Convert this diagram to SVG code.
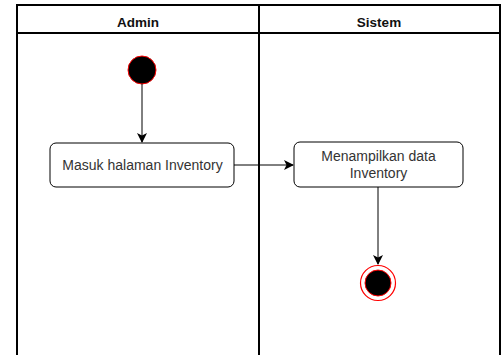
<svg xmlns="http://www.w3.org/2000/svg" width="503" height="355" viewBox="0 0 503 355">
<defs>
<marker id="arr" viewBox="0 0 10 10" refX="9" refY="5" markerWidth="10" markerHeight="10" markerUnits="userSpaceOnUse" orient="auto">
<path d="M0,0 L10,5 L0,10 L2.5,5 Z" fill="#000"/>
</marker>
<style>
.lane{fill:none;stroke:#000;stroke-width:2}
.hdr{font-family:"Liberation Sans",Arial,sans-serif;font-size:13.5px;font-weight:bold;fill:#111;text-anchor:middle}
.act{fill:#fff;stroke:#000;stroke-width:1}
.lbl{font-family:"Liberation Sans",Arial,sans-serif;font-size:14px;fill:#333;text-anchor:middle}
.conn{fill:none;stroke:#000;stroke-width:1}
</style>
</defs>
<rect width="503" height="355" fill="#fff"/>
<g id="lanes">
<path class="lane" d="M17,356 V5 H500 V356"/>
<line class="lane" x1="17" y1="33" x2="500" y2="33" stroke-width="1"/>
<line class="lane" x1="259" y1="5" x2="259" y2="356" stroke-width="1.5"/>
<text class="hdr" x="138" y="27">Admin</text>
<text class="hdr" x="379" y="27">Sistem</text>
</g>
<g id="start">
<circle cx="142" cy="70" r="14" fill="#000" stroke="#f00" stroke-width="1"/>
</g>
<g id="act1">
<rect class="act" x="50" y="143" width="184" height="44" rx="6"/>
<text class="lbl" x="142.5" y="170">Masuk halaman Inventory</text>
</g>
<g id="act2">
<rect class="act" x="294" y="142" width="169" height="45" rx="6"/>
<text class="lbl" x="378.5" y="161">Menampilkan data</text>
<text class="lbl" x="378.5" y="178">Inventory</text>
</g>
<g id="end">
<circle cx="378" cy="283" r="17.5" fill="#fff" stroke="#f00" stroke-width="1.2"/>
<circle cx="378" cy="283" r="13" fill="#000" stroke="#f00" stroke-width="1"/>
</g>
<g id="connectors">
<line class="conn" x1="142" y1="84" x2="142" y2="142" marker-end="url(#arr)"/>
<line class="conn" x1="234" y1="165" x2="293" y2="165" marker-end="url(#arr)"/>
<line class="conn" x1="378" y1="187" x2="378" y2="264" marker-end="url(#arr)"/>
</g>
</svg>
